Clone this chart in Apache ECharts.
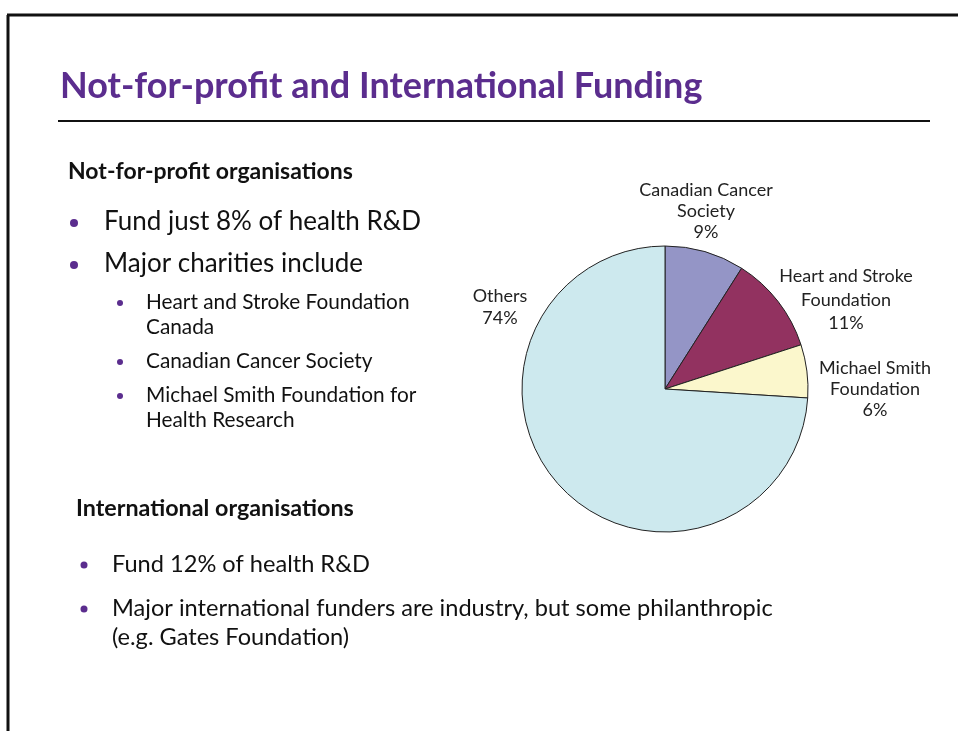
<!DOCTYPE html>
<html>
<head>
<meta charset="utf-8">
<script src="https://cdn.jsdelivr.net/npm/echarts@6/dist/echarts.min.js"></script>
<style>
  html, body { margin: 0; padding: 0; background: #fff; }
  #cht { width: 958px; height: 731px; }
</style>
</head>
<body>
<div id="cht"></div>
<script>
// pie data
var categories = ['Canadian Cancer Society', 'Heart and Stroke Foundation', 'Michael Smith Foundation', 'Others'];
var labelNames = ['Canadian Cancer\nSociety', 'Heart and Stroke\nFoundation', 'Michael Smith\nFoundation', 'Others'];
var shares = [9, 11, 6, 74];

// slide text
var titleText = 'Not-for-profit and International Funding';
var heading1 = 'Not-for-profit organisations';
var bullets1 = ['Fund just 8% of health R&D', 'Major charities include'];
var subBullets = [['Heart and Stroke Foundation', 'Canada'], ['Canadian Cancer Society'], ['Michael Smith Foundation for', 'Health Research']];
var heading2 = 'International organisations';
var bullets2 = [['Fund 12% of health R&D'], ['Major international funders are industry, but some philanthropic', '(e.g. Gates Foundation)']];

var purple = '#5b2d8e';
var sliceColors = ['#9495c6', '#923260', '#fbf7cc', '#cde9ee'];
var labelSpots = [[706, 211], [846, 300], [875, 389], [500, 307]];
var labelLH = [21, 23.5, 21, 22];
var FONT = 'Lato, "Open Sans", sans-serif';

function txt(x, y, s, size, weight, color) {
    return {
        type: 'text', x: x, y: y, silent: true,
        style: {
            text: s, fill: color || '#111',
            font: (weight || 'normal') + ' ' + size + 'px ' + FONT,
            align: 'left', verticalAlign: 'middle'
        }
    };
}
function dot(x, y, r) {
    return { type: 'circle', shape: { cx: x, cy: y, r: r }, style: { fill: purple }, silent: true };
}
function line(x1, y1, x2, y2, w) {
    return { type: 'line', shape: { x1: x1, y1: y1, x2: x2, y2: y2 }, style: { stroke: '#111', lineWidth: w }, silent: true };
}

var graphics = [
    line(7, 15, 958, 15, 3),
    line(8, 15, 8, 731, 3),
    line(58, 121, 930, 121, 2),
    txt(60, 86, titleText, 36, 'bold', purple),
    txt(68, 172, heading1, 23, 'bold')
];
var by1 = [222, 264];
bullets1.forEach(function (b, i) {
    graphics.push(dot(74, by1[i] + 1, 4));
    graphics.push(txt(104, by1[i], b, 26));
});
var sy = [[302, 327], [361], [395, 420]];
subBullets.forEach(function (lines, i) {
    graphics.push(dot(120, sy[i][0] + 1, 3));
    lines.forEach(function (l, j) { graphics.push(txt(146, sy[i][j], l, 20.8)); });
});
graphics.push(txt(76, 508, heading2, 23.3, 'bold'));
var by2 = [[564], [608, 637]];
bullets2.forEach(function (lines, i) {
    graphics.push(dot(84, by2[i][0] + 1, 3.5));
    lines.forEach(function (l, j) { graphics.push(txt(112, by2[i][j], l, 23.6)); });
});

var config = {
    animation: false,
    backgroundColor: '#fff',
    graphic: graphics,
    series: [{
        type: 'pie',
        center: [665, 389],
        radius: 143,
        startAngle: 90,
        clockwise: true,
        label: {
            show: true,
            position: 'inside',
            color: '#222',
            fontFamily: FONT,
            fontSize: 18,
            align: 'center',
            formatter: function (p) { return labelNames[p.dataIndex] + '\n' + p.percent + '%'; }
        },
        labelLine: { show: false },
        labelLayout: function (p) {
            var s = labelSpots[p.dataIndex];
            return { x: s[0], y: s[1], align: 'center', verticalAlign: 'middle' };
        },
        itemStyle: { borderColor: '#222', borderWidth: 1 },
        emphasis: { disabled: true },
        data: shares.map(function (v, i) {
            return {
                name: categories[i], value: v,
                itemStyle: { color: sliceColors[i] },
                label: { lineHeight: labelLH[i] }
            };
        })
    }]
};

window.onload = function () {
    var myChart = echarts.init(document.getElementById('cht'));
    myChart.setOption(config);
};
</script>
</body>
</html>
